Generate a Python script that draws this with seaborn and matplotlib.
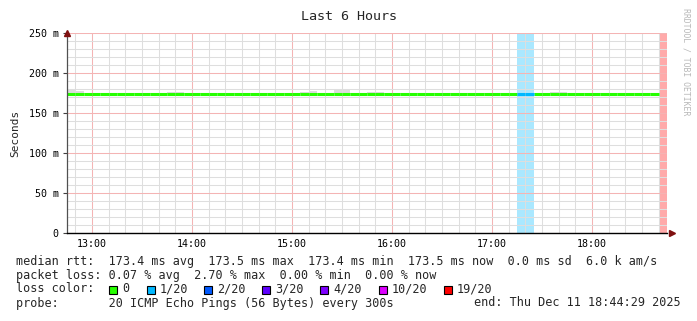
import numpy as np
import pandas as pd
import matplotlib
matplotlib.use("Agg")
import matplotlib.pyplot as plt
import seaborn as sns
from matplotlib.patches import Rectangle

# ---------------- data ----------------
title = "Last 6 Hours"
start_hour = 12.75            # 12:45, first 5-minute step
step_hours = 5 / 60           # 300 s steps
hour_ticks = [13, 14, 15, 16, 17, 18]
hour_labels = ["13:00", "14:00", "15:00", "16:00", "17:00", "18:00"]
y_ticks = [0, 50, 100, 150, 200, 250]
y_labels = ["0", "50 m", "100 m", "150 m", "200 m", "250 m"]

# median rtt per 5-minute step (ms); last step had no reply median drawn
median_ms = [
    173.4, 173.4, 173.4, 173.4, 173.4, 173.4, 173.4, 173.4, 173.4, 173.4, 173.4, 173.4,
    173.4, 173.4, 173.4, 173.4, 173.4, 173.4, 173.4, 173.4, 173.4, 173.4, 173.4, 173.4,
    173.4, 173.4, 173.4, 173.4, 173.5, 173.5, 173.4, 173.4, 173.5, 173.5, 173.4, 173.4,
    173.4, 173.4, 173.4, 173.4, 173.4, 173.4, 173.4, 173.4, 173.4, 173.4, 173.4, 173.4,
    173.4, 173.4, 173.4, 173.4, 173.4, 173.4, 173.4, 173.4, 173.4, 173.4, 173.5, 173.5,
    173.4, 173.4, 173.4, 173.4, 173.4, 173.4, 173.4, 173.4, 173.4, 173.4, 173.4, np.nan,
]
# top of the smoke (slowest ping) per step (ms)
smoke_top_ms = [
    179.0, 177.5, 174.5, 174.5, 174.5, 174.5, 174.5, 174.5, 174.5, 174.5, 174.5, 174.5,
    176.3, 176.3, 174.5, 174.5, 174.5, 174.5, 174.5, 174.5, 174.5, 174.5, 174.5, 174.5,
    174.5, 174.5, 174.5, 174.5, 176.3, 177.0, 174.5, 174.5, 178.5, 178.5, 174.5, 174.5,
    176.3, 176.3, 174.5, 174.5, 174.5, 174.5, 174.5, 174.5, 174.5, 174.5, 174.5, 174.5,
    174.5, 174.5, 174.5, 174.5, 174.5, 174.5, 174.5, 174.5, 174.5, 174.5, 176.3, 176.3,
    174.5, 174.5, 174.5, 174.5, 174.5, 174.5, 174.5, 174.5, 174.5, 174.5, 174.5, np.nan,
]
# lost pings (out of 20) per step
loss = [
    0, 0, 0, 0, 0, 0, 0, 0, 0, 0, 0, 0,
    0, 0, 0, 0, 0, 0, 0, 0, 0, 0, 0, 0,
    0, 0, 0, 0, 0, 0, 0, 0, 0, 0, 0, 0,
    0, 0, 0, 0, 0, 0, 0, 0, 0, 0, 0, 0,
    0, 0, 0, 0, 0, 0, 1, 1, 0, 0, 0, 0,
    0, 0, 0, 0, 0, 0, 0, 0, 0, 0, 0, 19,
]
loss_levels = [0, 1, 2, 3, 4, 10, 19]
loss_names = ["0", "1/20", "2/20", "3/20", "4/20", "10/20", "19/20"]
loss_colors = ["#26ff00", "#00b8ff", "#0059ff", "#5e00ff", "#7e00ff", "#dd00ff", "#ff0000"]
loss_bg = {1: "#aae8ff", 19: "#ffaaaa"}

stats_line1 = "median rtt:  173.4 ms avg  173.5 ms max  173.4 ms min  173.5 ms now  0.0 ms sd  6.0 k am/s"
stats_line2 = "packet loss: 0.07 % avg  2.70 % max  0.00 % min  0.00 % now"
probe_line = "probe:       20 ICMP Echo Pings (56 Bytes) every 300s"
end_line = "end: Thu Dec 11 18:44:29 2025"

# ---------------- frame ----------------
n = len(median_ms)
x_start = start_hour + np.arange(n) * step_hours
df = pd.DataFrame({"x": x_start, "median": median_ms, "smoke": smoke_top_ms, "loss": loss})

sns.set_theme(style="white")
plt.rcParams["font.family"] = ["DejaVu Sans Mono", "DejaVu Sans"]

W, H = 697, 321
fig = plt.figure(figsize=(W / 100, H / 100), dpi=100)
L, R, T, B = 67, 667, 33, 233
ax = fig.add_axes([L / W, 1 - B / H, (R - L) / W, (B - T) / H])
ax.set_facecolor("white")

# loss background bars
lb = df[df["loss"] > 0]
ax.bar(lb["x"], 250, width=step_hours, align="edge",
       color=[loss_bg[v] for v in lb["loss"]], linewidth=0, zorder=0.2)

# smoke
sm = df.dropna()
ax.bar(sm["x"], sm["smoke"] - sm["median"], bottom=sm["median"], width=step_hours,
       align="edge", color="#dcdcdc", linewidth=0, zorder=1)

# median line, one segment per step, colored by loss
rows = []
for i, r in df.dropna(subset=["median"]).iterrows():
    lab = loss_names[loss_levels.index(r["loss"])]
    rows.append({"x": r["x"], "y": r["median"], "seg": i, "lossname": lab})
    rows.append({"x": r["x"] + step_hours, "y": r["median"], "seg": i, "lossname": lab})
ld = pd.DataFrame(rows)
pal = dict(zip(loss_names, loss_colors))
sns.lineplot(data=ld, x="x", y="y", units="seg", estimator=None, hue="lossname",
             palette=pal, linewidth=2.2, legend=False, ax=ax, zorder=3,
             solid_capstyle="butt")

# axes, grid
ax.set_xlim(12.75, 18.75)
ax.set_ylim(0, 250)
ax.set_xticks(hour_ticks)
ax.set_xticklabels(hour_labels)
ax.set_xticks(np.arange(12 * 6 + 5, 18 * 6 + 5) / 6, minor=True)
ax.set_yticks(y_ticks)
ax.set_yticklabels(y_labels)
ax.set_yticks(np.arange(0, 251, 10), minor=True)
ax.grid(which="minor", color="#dedede", linewidth=0.75)
ax.grid(which="major", color="#f4b4b4", linewidth=0.75)
ax.set_axisbelow(False)
for gl in ax.get_xgridlines() + ax.get_ygridlines():
    gl.set_zorder(1.5)
ax.set_xlabel("")
ax.set_ylabel("")
ax.tick_params(axis="x", which="both", length=0, pad=4, labelsize=7.2, colors="black")
ax.tick_params(axis="y", which="major", length=3, width=0.8, pad=3, labelsize=7.2,
               color="#404040", labelcolor="black", left=True)
ax.tick_params(axis="y", which="minor", length=0)
for s in ["top", "right"]:
    ax.spines[s].set_visible(False)
ax.spines["left"].set_color("#505050")
ax.spines["left"].set_linewidth(0.9)
ax.spines["left"].set_zorder(6)
ax.spines["bottom"].set_color("black")
ax.spines["bottom"].set_linewidth(1.0)
ax.spines["bottom"].set_zorder(6)
ax.plot([0], [1.0], marker="^", ms=4, color="#7f1010", transform=ax.transAxes,
        clip_on=False, zorder=7)
ax.plot([1.008], [0], marker=">", ms=4, color="#7f1010", transform=ax.transAxes,
        clip_on=False, zorder=7)

# texts
fig.text(349 / W, 1 - 16 / H, title, ha="center", va="center", fontsize=9.6)
fig.text(15 / W, 1 - 133 / H, "Seconds", rotation=90, ha="center", va="center", fontsize=8)
fig.text(686 / W, 1 - 8 / H, "RRDTOOL / TOBI OETIKER", rotation=270, ha="center",
         va="top", fontsize=5.9, color="#b8b8b8")

fs = 8.5
fig.text(16 / W, 1 - 261 / H, stats_line1, ha="left", va="center", fontsize=fs)
fig.text(16 / W, 1 - 275 / H, stats_line2, ha="left", va="center", fontsize=fs)
fig.text(16 / W, 1 - 289 / H, "loss color:", ha="left", va="center", fontsize=fs)
box_x = [109, 147, 204, 262, 320, 379, 444]
for bx, name, col in zip(box_x, loss_names, loss_colors):
    fig.patches.append(Rectangle((bx / W, 1 - 293.5 / H), 8 / W, 8 / H, transform=fig.transFigure,
                                 facecolor=col, edgecolor="black", linewidth=0.8))
    fig.text((bx + 13) / W, 1 - 289 / H, name, ha="left", va="center", fontsize=fs)
fig.text(16 / W, 1 - 303 / H, probe_line, ha="left", va="center", fontsize=fs)
fig.text(681 / W, 1 - 303 / H, end_line, ha="right", va="center", fontsize=fs)

fig.savefig("out.png", dpi=100)
